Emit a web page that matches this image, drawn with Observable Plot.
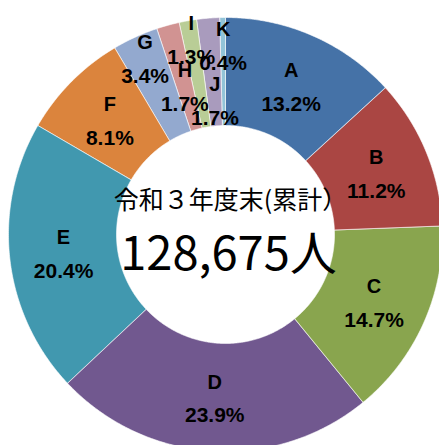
<!DOCTYPE html>
<html>
<head>
<meta charset="utf-8">
<script src="https://cdn.jsdelivr.net/npm/d3@7"></script>
<script src="https://cdn.jsdelivr.net/npm/@observablehq/plot@0.6"></script>
<style>
  html, body { margin: 0; padding: 0; background: #fff; }
  #chart svg { display: block; }
</style>
</head>
<body>
<div id="chart"></div>
<script>
// ---- data ----
const categories = ["A", "B", "C", "D", "E", "F", "G", "H", "I", "J", "K"];
const shares = [13.2, 11.2, 14.7, 23.9, 20.4, 8.1, 3.4, 1.7, 1.3, 1.7, 0.4];
const centerTitle = "令和３年度末(累計）";
const total = 128675;
const unit = "人";

// ---- style / layout ----
const colors = ["#4572A7", "#AA4643", "#89A54E", "#71588F", "#4198AF", "#DB843D",
                "#93A9CF", "#D19392", "#B9CD96", "#A99BBD", "#92C4D8"];
const W = 439, H = 445;
const cx = 225, cy = 234, R = 217;      // pixel layout of the ring
const innerRatio = 109 / R;
const defaultLabelR = 163;
const labelR = {G: 194, H: 154, I: 199, J: 135, K: 190};

// ---- build geometry in unit coordinates (outer radius = 1) ----
const sum = d3.sum(shares);
const rings = [];
const labels = [];
let acc = 0;
categories.forEach((cat, i) => {
  const a0 = acc / sum * 2 * Math.PI;
  acc += shares[i];
  const a1 = acc / sum * 2 * Math.PI;
  const n = Math.max(2, Math.ceil((a1 - a0) / (Math.PI / 360)));
  for (let k = 0; k <= n; k++) {
    const a = a0 + (a1 - a0) * k / n;
    rings.push({cat, x: Math.sin(a), y: Math.cos(a)});
  }
  for (let k = n; k >= 0; k--) {
    const a = a0 + (a1 - a0) * k / n;
    rings.push({cat, x: innerRatio * Math.sin(a), y: innerRatio * Math.cos(a)});
  }
  const am = (a0 + a1) / 2;
  const r = (labelR[cat] ?? defaultLabelR) / R;
  labels.push({cat, pct: shares[i].toFixed(1) + "%", x: r * Math.sin(am), y: r * Math.cos(am)});
});

const centerData = [{x: 0, y: 0, title: centerTitle, value: d3.format(",")(total) + unit}];

const chart = Plot.plot({
  width: W,
  height: H,
  margin: 0,
  x: {domain: [-cx / R, (W - cx) / R], axis: null},
  y: {domain: [(cy - H) / R, cy / R], axis: null},
  color: {domain: categories, range: colors},
  marks: [
    Plot.line(rings, {x: "x", y: "y", z: "cat", fill: "cat", stroke: "white",
                      strokeWidth: 0.6, curve: "linear-closed"}),
    Plot.text(labels, {x: "x", y: "y", text: "cat", dy: -15, fontSize: 20,
                       fontWeight: "bold", fill: "black",
                       fontFamily: "Liberation Sans, Arial, sans-serif"}),
    Plot.text(labels, {x: "x", y: "y", text: "pct", dy: 18.5, fontSize: 21,
                       fontWeight: "bold", fill: "black",
                       fontFamily: "Liberation Sans, Arial, sans-serif"}),
    Plot.text(centerData, {x: "x", y: "y", text: "title", dy: -34, dx: 5, fontSize: 25,
                           fill: "black", fontFamily: "Noto Sans CJK JP"}),
    Plot.text(centerData, {x: "x", y: "y", text: "value", dy: 20, dx: 3, fontSize: 47,
                           fill: "black", fontFamily: "Noto Sans CJK JP"})
  ]
});
document.getElementById("chart").appendChild(chart);
</script>
</body>
</html>
